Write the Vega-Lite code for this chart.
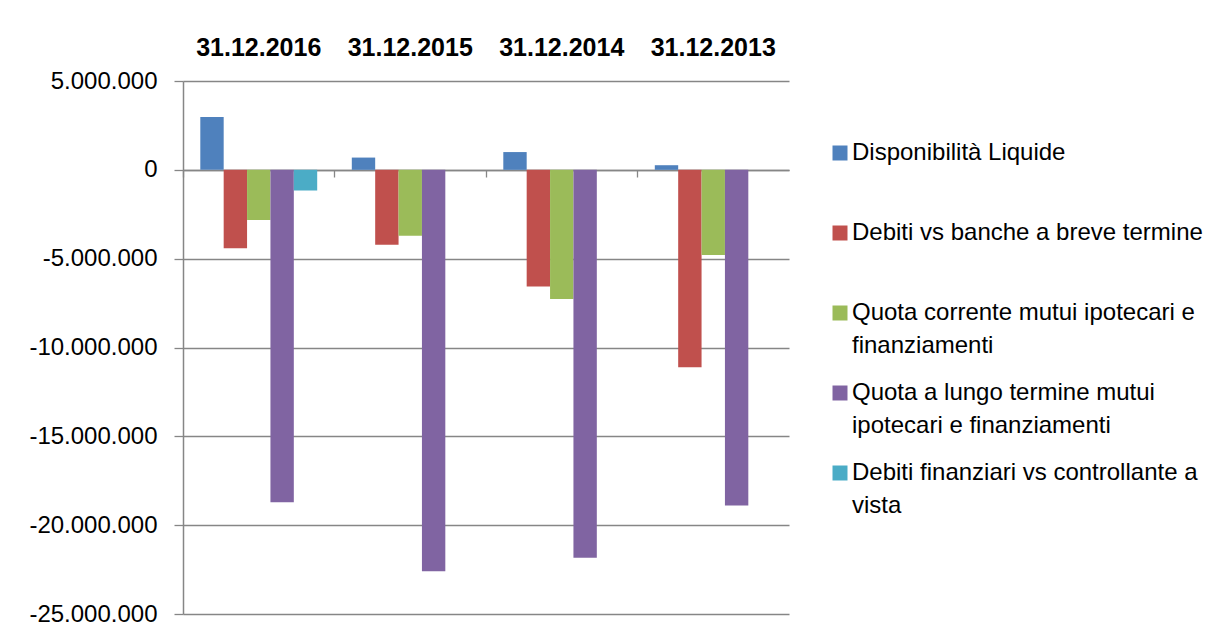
{
  "$schema": "https://vega.github.io/schema/vega-lite/v6.json",
  "width": 606,
  "height": 533,
  "autosize": "none",
  "padding": {"left": 183, "top": 81, "right": 434, "bottom": 22},
  "background": "white",
  "config": {
    "view": {"stroke": null},
    "font": "Liberation Sans",
    "style": {"guide-label": {"lineHeight": 33}},
    "locale": {"number": {"decimal": ",", "thousands": ".", "grouping": [3], "currency": ["", " €"], "minus": "-"}}
  },
  "data": {
    "values": [
      {"data": "31.12.2016", "voce": "Disponibilità Liquide", "valore": 2970000},
      {"data": "31.12.2016", "voce": "Debiti vs banche a breve termine", "valore": -4410000},
      {"data": "31.12.2016", "voce": "Quota corrente mutui ipotecari e finanziamenti", "valore": -2820000},
      {"data": "31.12.2016", "voce": "Quota a lungo termine mutui ipotecari e finanziamenti", "valore": -18710000},
      {"data": "31.12.2016", "voce": "Debiti finanziari vs controllante a vista", "valore": -1170000},
      {"data": "31.12.2015", "voce": "Disponibilità Liquide", "valore": 690000},
      {"data": "31.12.2015", "voce": "Debiti vs banche a breve termine", "valore": -4220000},
      {"data": "31.12.2015", "voce": "Quota corrente mutui ipotecari e finanziamenti", "valore": -3710000},
      {"data": "31.12.2015", "voce": "Quota a lungo termine mutui ipotecari e finanziamenti", "valore": -22600000},
      {"data": "31.12.2014", "voce": "Disponibilità Liquide", "valore": 1000000},
      {"data": "31.12.2014", "voce": "Debiti vs banche a breve termine", "valore": -6570000},
      {"data": "31.12.2014", "voce": "Quota corrente mutui ipotecari e finanziamenti", "valore": -7270000},
      {"data": "31.12.2014", "voce": "Quota a lungo termine mutui ipotecari e finanziamenti", "valore": -21830000},
      {"data": "31.12.2013", "voce": "Disponibilità Liquide", "valore": 260000},
      {"data": "31.12.2013", "voce": "Debiti vs banche a breve termine", "valore": -11110000},
      {"data": "31.12.2013", "voce": "Quota corrente mutui ipotecari e finanziamenti", "valore": -4800000},
      {"data": "31.12.2013", "voce": "Quota a lungo termine mutui ipotecari e finanziamenti", "valore": -18900000}
    ]
  },
  "encoding": {
    "x": {
      "field": "data", "type": "nominal",
      "sort": ["31.12.2016", "31.12.2015", "31.12.2014", "31.12.2013"],
      "scale": {"paddingInner": 0, "paddingOuter": 0}
    },
    "xOffset": {
      "field": "voce", "type": "nominal",
      "sort": ["Disponibilità Liquide", "Debiti vs banche a breve termine", "Quota corrente mutui ipotecari e finanziamenti", "Quota a lungo termine mutui ipotecari e finanziamenti", "Debiti finanziari vs controllante a vista"],
      "scale": {
        "domain": ["Disponibilità Liquide", "Debiti vs banche a breve termine", "Quota corrente mutui ipotecari e finanziamenti", "Quota a lungo termine mutui ipotecari e finanziamenti", "Debiti finanziari vs controllante a vista"],
        "paddingInner": 0, "paddingOuter": 0.74
      }
    },
    "y": {
      "field": "valore", "type": "quantitative",
      "scale": {"domain": [-25000000, 5000000], "nice": false, "zero": false}
    }
  },
  "layer": [
    {
      "mark": {"type": "bar"},
      "encoding": {
        "x": {
          "field": "data", "type": "nominal",
          "sort": ["31.12.2016", "31.12.2015", "31.12.2014", "31.12.2013"],
          "scale": {"paddingInner": 0, "paddingOuter": 0},
          "axis": {
            "orient": "top", "title": null, "domain": false, "ticks": false, "grid": false,
            "labelFont": "Liberation Sans", "labelFontWeight": "bold", "labelFontSize": 25,
            "labelAngle": 0, "labelPadding": 21, "labelColor": "#000000"
          }
        },
        "y": {
          "field": "valore", "type": "quantitative",
          "scale": {"domain": [-25000000, 5000000], "nice": false, "zero": false},
          "axis": {
            "title": null,
            "values": [-25000000, -20000000, -15000000, -10000000, -5000000, 0, 5000000],
            "format": ",d",
            "grid": true, "gridColor": "#868686", "gridWidth": 1.3,
            "domain": true, "domainColor": "#868686", "domainWidth": 1.5,
            "ticks": true, "tickColor": "#868686", "tickSize": 9, "tickWidth": 1.3,
            "labelFont": "Liberation Sans", "labelFontSize": 24, "labelColor": "#000000",
            "labelPadding": 17
          }
        },
        "color": {
          "field": "voce", "type": "nominal",
          "scale": {
            "domain": ["Disponibilità Liquide", "Debiti vs banche a breve termine", "Quota corrente mutui ipotecari e finanziamenti", "Quota a lungo termine mutui ipotecari e finanziamenti", "Debiti finanziari vs controllante a vista"],
            "range": ["#4F81BD", "#C0504D", "#9BBB59", "#8064A2", "#4BACC6"]
          },
          "legend": {
            "title": null,
            "orient": "none",
            "legendX": 645,
            "legendY": 60,
            "symbolType": "square",
            "symbolSize": 225,
            "symbolStrokeWidth": 0,
            "labelFont": "Liberation Sans",
            "labelFontSize": 24,
            "labelColor": "#000000",
            "labelOffset": 0,
            "labelLimit": 500,
            "rowPadding": 23,
            "padding": 0,
            "labelExpr": "datum.label == 'Quota corrente mutui ipotecari e finanziamenti' ? ['Quota corrente mutui ipotecari e', 'finanziamenti'] : datum.label == 'Quota a lungo termine mutui ipotecari e finanziamenti' ? ['Quota a lungo termine mutui', 'ipotecari e finanziamenti'] : datum.label == 'Debiti finanziari vs controllante a vista' ? ['Debiti finanziari vs controllante a', 'vista'] : [datum.label, ' ']"
          }
        }
      }
    },
    {
      "mark": {"type": "bar", "opacity": 0},
      "encoding": {
        "x": {
          "field": "data", "type": "nominal",
          "sort": ["31.12.2016", "31.12.2015", "31.12.2014", "31.12.2013"],
          "scale": {"paddingInner": 0, "paddingOuter": 0},
          "axis": {
            "orient": "bottom", "title": null, "offset": -444,
            "labels": false, "grid": false,
            "domain": true, "domainColor": "#868686", "domainWidth": 1.5,
            "ticks": true, "tickColor": "#868686", "tickSize": 7, "tickWidth": 1.3, "bandPosition": 0
          }
        }
      }
    }
  ],
  "resolve": {"axis": {"x": "independent"}}
}
